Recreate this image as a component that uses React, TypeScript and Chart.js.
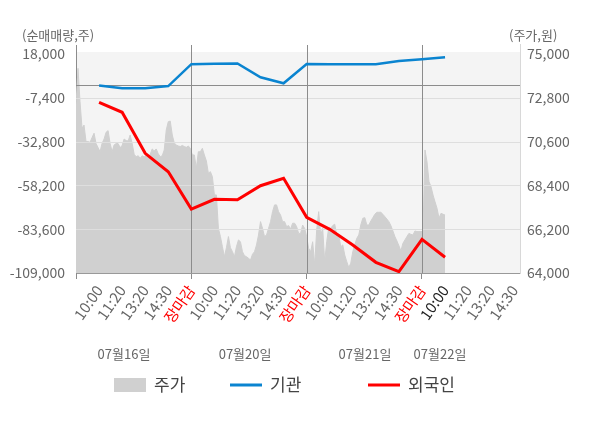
import React, { useRef, useEffect } from "react";
import { Chart, registerables } from "chart.js";

Chart.register(...registerables);
Chart.defaults.font.family = "'Noto Sans CJK KR', 'Noto Sans', sans-serif";

// x축 시간 라벨 (4일치)
const timeLabels = [
  "10:00", "11:20", "13:20", "14:30", "장마감",
  "10:00", "11:20", "13:20", "14:30", "장마감",
  "10:00", "11:20", "13:20", "14:30", "장마감",
  "10:00", "11:20", "13:20", "14:30",
];
const dateLabels = ["07월16일", "07월20일", "07월21일", "07월22일"];

const leftTicks = [-109000, -83600, -58200, -32800, -7400, 18000];
const rightTicks = [64000, 66200, 68400, 70600, 72800, 75000];

// 기관 / 외국인 누적 순매매량 (라벨 1~16 위치)
const institution = [
  -200, -1800, -1800, -600, 12100, 12300, 12500, 4500, 1000,
  12200, 12100, 12000, 12000, 13900, 14900, 16100,
];
const foreign = [
  -10000, -15800, -39600, -50300, -71900, -66300, -66500, -58400, -54100,
  -76700, -83700, -92800, -102800, -108200, -89500, -99900,
];

// 주가 (분봉, 07/16 ~ 07/22 10:00)
const prices = [
  // 07월16일
  72440, 74280, 72610, 71270, 71430, 70600, 70600, 70560, 70800, 71020,
  70500, 70300, 70090, 70510, 70730, 71070, 71150, 70510, 70090, 70430,
  70500, 70500, 70300, 70400, 70730, 70650, 70630, 70930, 70510, 69960,
  69840, 69890, 69760, 69890, 69830, 69930, 69730, 69960, 70230, 70130,
  70230, 69990, 69840, 69890, 70180, 71180, 71600, 71630, 70930, 70530,
  70430, 70380, 70350, 70410, 70350, 70310, 70380, 70260,
  // 07월20일
  69930, 69930, 69260, 70090, 70090, 70260, 69930, 69630, 69010, 69090,
  68840, 67920, 67920, 66240, 65830, 65320, 64820, 65270, 65830, 65270,
  65070, 64820, 65320, 65660, 65570, 65070, 64870, 64820, 64740, 64650,
  64940, 65070, 65410, 65910, 66580, 66240, 65830, 65910, 66240, 66580,
  67080, 67420, 67420, 67080, 66910, 66580, 66580, 66330, 66380, 66210,
  66500, 66500, 66330, 65990, 65990, 66410, 66240, 65830,
  // 07월21일
  65240, 65070, 65570, 64400, 66160, 67080, 65910, 66240, 64570, 65570,
  66280, 66240, 66380, 66450, 65910, 65910, 65320, 65410, 64900, 64570,
  64270, 64490, 65070, 65410, 65740, 65910, 66410, 66750, 66780, 66410,
  66410, 66610, 66780, 66950, 67050, 67050, 67050, 66950, 66830, 66710,
  66580, 66380, 66110, 65830, 65610, 65370, 65110, 65490, 65660, 65830,
  65990, 65940, 65910, 66110, 66080, 66080, 66080, 66080,
  // 07월22일
  70180, 69590, 68590, 68340, 67920, 67580, 67250, 66750, 67000, 66950, 66910,
];
const priceEnd = 16; // 주가 데이터는 07/22 10:00 까지

const CURRENT_LABEL = 15; // 검은색으로 표시되는 라벨 (07/22 10:00)
const dateLabelAt = [2.08, 7.33, 12.53, 15.78];
const legendX = [114, 230, 368];

const LINE_DARK = "#8c8c8c";
const GRID = "#dedede";
const TEXT = "#666";

const crisp = (v: number) => Math.round(v) + 0.5;

const overlay = {
  id: "overlay",
  beforeDraw(chart: any) {
    const { ctx, chartArea: a } = chart;
    ctx.save();
    ctx.fillStyle = "#f4f4f4";
    ctx.fillRect(a.left, a.top - 2, a.right - a.left, a.bottom - a.top + 2);
    ctx.restore();
  },
  afterDatasetDraw(chart: any, args: any) {
    if (args.index !== 0) return;
    const { ctx, chartArea: a } = chart;
    const ys = chart.scales.y;
    const xs = chart.scales.x;
    ctx.save();
    ctx.lineWidth = 1;
    ctx.strokeStyle = GRID;
    leftTicks.slice(1, -1).forEach((v) => {
      const py = crisp(ys.getPixelForValue(v));
      ctx.beginPath();
      ctx.moveTo(a.left, py);
      ctx.lineTo(a.right, py);
      ctx.stroke();
    });
    ctx.strokeStyle = LINE_DARK;
    const zy = crisp(ys.getPixelForValue(0));
    ctx.beginPath();
    ctx.moveTo(a.left, zy);
    ctx.lineTo(a.right, zy);
    ctx.stroke();
    timeLabels.forEach((l, i) => {
      if (l !== "장마감") return;
      const px = crisp(xs.getPixelForValue(i + 1));
      ctx.beginPath();
      ctx.moveTo(px, a.top - 9);
      ctx.lineTo(px, a.bottom);
      ctx.stroke();
    });
    ctx.restore();
  },
  afterDraw(chart: any) {
    const { ctx, chartArea: a } = chart;
    const xs = chart.scales.x;
    ctx.save();
    // 축선 위쪽 연장
    ctx.lineWidth = 1;
    ctx.strokeStyle = LINE_DARK;
    ctx.beginPath();
    ctx.moveTo(crisp(a.left), a.top - 9);
    ctx.lineTo(crisp(a.left), a.top);
    ctx.stroke();
    ctx.strokeStyle = "#d8d8d8";
    ctx.beginPath();
    ctx.moveTo(crisp(a.right), a.top - 10);
    ctx.lineTo(crisp(a.right), a.top);
    ctx.stroke();

    // 축 제목
    ctx.font = "13px 'Noto Sans CJK KR'";
    ctx.fillStyle = TEXT;
    ctx.textBaseline = "middle";
    ctx.textAlign = "left";
    ctx.fillText("(순매매량,주)", 22, 35);
    ctx.fillText("(주가,원)", 509, 35);

    // 날짜
    ctx.font = "13px 'Noto Sans CJK KR'";
    ctx.textAlign = "center";
    dateLabels.forEach((d, i) => {
      ctx.fillText(d, xs.getPixelForValue(dateLabelAt[i]), 354);
    });

    // 범례
    const ly = 385;
    ctx.font = "17px 'Noto Sans CJK KR'";
    ctx.textAlign = "left";
    chart.data.datasets.forEach((ds: any, i: number) => {
      const x0 = legendX[i];
      if (ds.fill) {
        ctx.fillStyle = ds.backgroundColor;
        ctx.fillRect(x0, ly - 7, 32, 14);
      } else {
        ctx.strokeStyle = ds.borderColor;
        ctx.lineWidth = 3;
        ctx.beginPath();
        ctx.moveTo(x0, ly);
        ctx.lineTo(x0 + 32, ly);
        ctx.stroke();
      }
      ctx.fillStyle = "#444";
      ctx.fillText(ds.label, x0 + 40, ly);
    });
    ctx.restore();
  },
};

export default function App() {
  const canvasRef = useRef<HTMLCanvasElement>(null);

  useEffect(() => {
    if (!canvasRef.current) return;
    const step = priceEnd / (prices.length - 1);

    const chart = new Chart(canvasRef.current, {
      type: "line",
      data: {
        datasets: [
          {
            label: "주가",
            data: prices.map((y, i) => ({ x: i * step, y })),
            yAxisID: "y1",
            fill: "start",
            backgroundColor: "#d0d0d0",
            borderColor: "#d0d0d0",
            borderWidth: 1,
            pointRadius: 0,
            tension: 0,
            order: 2,
          },
          {
            label: "기관",
            data: institution.map((y, i) => ({ x: i + 1, y })),
            yAxisID: "y",
            borderColor: "#0a84d0",
            borderWidth: 2.5,
            pointRadius: 0,
            fill: false,
            tension: 0,
            order: 1,
          },
          {
            label: "외국인",
            data: foreign.map((y, i) => ({ x: i + 1, y })),
            yAxisID: "y",
            borderColor: "#ff0000",
            borderWidth: 3,
            pointRadius: 0,
            fill: false,
            tension: 0,
            order: 0,
          },
        ],
      },
      options: {
        responsive: true,
        maintainAspectRatio: false,
        animation: false,
        layout: { padding: { top: 54, left: 0, right: 0, bottom: 0 } },
        plugins: {
          legend: { display: false },
          tooltip: { enabled: false },
        },
        scales: {
          x: {
            type: "linear",
            min: 0,
            max: 19.25,
            afterBuildTicks: (s: any) => {
              s.ticks = [0, ...timeLabels.map((_, i) => i + 1)].map((value) => ({ value }));
            },
            afterFit: (s: any) => {
              s.height = 155;
            },
            border: { color: "#999" },
            grid: {
              drawOnChartArea: false,
              drawTicks: true,
              tickLength: 6,
              color: (c: any) =>
                c.tick && (c.tick.value === 0 || timeLabels[c.tick.value - 1] === "장마감")
                  ? LINE_DARK
                  : "rgba(0,0,0,0)",
            },
            ticks: {
              autoSkip: false,
              minRotation: 55,
              maxRotation: 55,
              padding: 3,
              font: { size: 15 },
              color: (c: any) => {
                const l = timeLabels[c.tick.value - 1];
                if (l === "장마감") return "#ff0000";
                if (c.tick.value - 1 === CURRENT_LABEL) return "#222";
                return TEXT;
              },
              callback: (v: any) => timeLabels[v - 1] ?? "",
            },
          },
          y: {
            type: "linear",
            position: "left",
            min: leftTicks[0],
            max: leftTicks[leftTicks.length - 1],
            afterBuildTicks: (s: any) => {
              s.ticks = leftTicks.map((value) => ({ value }));
            },
            afterFit: (s: any) => {
              s.width = 76;
            },
            border: { color: LINE_DARK },
            grid: { display: false, drawTicks: false },
            ticks: {
              padding: 11,
              font: { size: 14 },
              color: TEXT,
              callback: (v: any) => Number(v).toLocaleString("en-US"),
            },
          },
          y1: {
            type: "linear",
            position: "right",
            min: rightTicks[0],
            max: rightTicks[rightTicks.length - 1],
            afterBuildTicks: (s: any) => {
              s.ticks = rightTicks.map((value) => ({ value }));
            },
            afterFit: (s: any) => {
              s.width = 80;
            },
            border: { color: "#d8d8d8" },
            grid: { display: false, drawTicks: false },
            ticks: {
              padding: 7,
              font: { size: 14 },
              color: TEXT,
              callback: (v: any) => Number(v).toLocaleString("en-US"),
            },
          },
        },
      },
      plugins: [overlay],
    });

    return () => {
      chart.destroy();
    };
  }, []);

  return (
    <div style={{ position: "absolute", left: 0, top: 0, width: 600, height: 428, background: "#fff" }}>
      <canvas ref={canvasRef}></canvas>
    </div>
  );
}
